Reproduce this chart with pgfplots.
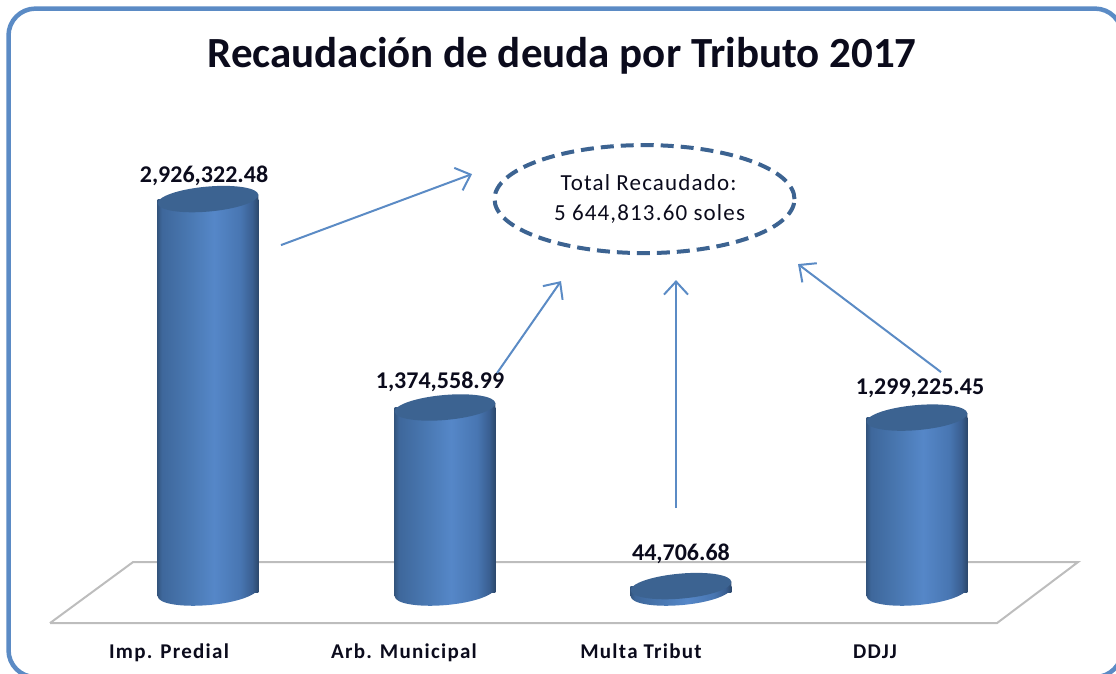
\documentclass[border=0pt]{standalone}
\usepackage{fontspec}
\setmainfont{Carlito}
\usepackage{pgfplots}
\usepackage{pgfplotstable}
\pgfplotsset{compat=1.18}
\usetikzlibrary{arrows.meta}
\definecolor{framecol}{HTML}{5B8BC5}
\definecolor{lidcol}{HTML}{3C6391}
\definecolor{inkcol}{HTML}{0B0B1C}
\definecolor{floorcol}{HTML}{BDBDBD}
\definecolor{cA}{RGB}{52,86,128}
\definecolor{cB}{RGB}{62,103,155}
\definecolor{cC}{RGB}{72,118,175}
\definecolor{cD}{RGB}{85,135,200}
\definecolor{cE}{RGB}{72,118,178}
\definecolor{cF}{RGB}{58,95,145}
\definecolor{cG}{RGB}{44,72,108}
\pgfdeclarehorizontalshading{cyl}{100bp}{%
 color(0bp)=(cA);
 color(25bp)=(cA);
 color(27bp)=(cB);
 color(39bp)=(cC);
 color(53bp)=(cD);
 color(66bp)=(cE);
 color(72bp)=(cF);
 color(75bp)=(cG);
 color(100bp)=(cG)}
\pgfdeclareplotmark{cyltop}{%
  \shade[shading=cyl,draw=none] (-50.31pt,-4.4pt) -- (50.31pt,-4.4pt) -- (50.31pt,4.4pt) -- cycle;
  \pgfpathellipse{\pgfpointorigin}{\pgfqpoint{50.31pt}{4.4pt}}{\pgfqpoint{-1.09pt}{12.45pt}}%
  \pgfsetfillcolor{lidcol}\pgfusepathqfill}
\pgfdeclareplotmark{cylbase}{%
  \shade[shading=cyl,draw=none] (-50.31pt,6pt) -- (-50.31pt,-4.4pt)
    .. controls (-49.69pt,-11.55pt) and (-26.66pt,-15.38pt) .. (1.13pt,-12.95pt)
    .. controls (28.92pt,-10.52pt) and (50.31pt,-2.75pt) .. (50.31pt,4.4pt)
    -- (50.31pt,6pt) -- cycle;}
\pgfplotstableread{
x   y            label         dx  dy
208 2926322.48   2,926,322.48  -4  23
445 1374558.99   1,374,558.99  -5  26
681 44706.68     44,706.68      0  32
917 1299225.45   1,299,225.45   3  29
}\tributos
\begin{document}
\begin{tikzpicture}
\begin{scope}[x=1pt,y=1pt,yshift=673pt]
\useasboundingbox (0,0) rectangle (1116,-673);
\draw[framecol,line width=4.5pt,rounded corners=27pt] (8.5,-8.5) rectangle (1122,-677);
\end{scope}
\begin{axis}[
  at={(0pt,0pt)},anchor=south west,
  scale only axis,width=1116pt,height=673pt,
  xmin=0,xmax=1116,ymin=-603126,ymax=4408032,
  clip=false,
  axis line style={draw=none},
  major tick length=0pt,
  ytick=\empty,
  xtick={169,404,641,875},
  xticklabels={Imp. Predial,Arb. Municipal,Multa Tribut,DDJJ},
  xticklabel style={anchor=center,yshift=20pt,text=inkcol,text height=14pt,text depth=4pt,
     font=\bfseries\fontsize{21}{24}\selectfont\addfontfeature{LetterSpace=6}},
  title={Recaudación de deuda por Tributo 2017},
  title style={at={(0.5036,0.908)},anchor=center,text=inkcol,font=\bfseries\fontsize{43}{50}\selectfont},
]
% floor
\addplot[floorcol,line width=2pt,line join=miter,no markers] coordinates
  {(50,-230826) (997,-230826) (1078,223380) (133,223380) (50,-230826)};
% bottom of each cylinder
\addplot[only marks,mark=cylbase,draw=none] table[x=x,y expr=0] {\tributos};
% body
\addplot[ybar,bar width=100.62pt,bar shift=0pt,draw=none,shading=cyl] coordinates {(208,2926322.48)};
\addplot[ybar,bar width=100.62pt,bar shift=0pt,draw=none,shading=cyl] coordinates {(445,1374558.99)};
\addplot[ybar,bar width=100.62pt,bar shift=0pt,draw=none,shading=cyl] coordinates {(681,44706.68)};
\addplot[ybar,bar width=100.62pt,bar shift=0pt,draw=none,shading=cyl] coordinates {(917,1299225.45)};
% lid and value
\addplot[only marks,mark=cyltop,
  visualization depends on={\thisrow{dx}\as\dxv},
  visualization depends on={\thisrow{dy}\as\dyv},
  point meta=explicit symbolic,
  nodes near coords,
  every node near coord/.style={anchor=center,xshift=\dxv pt,yshift=\dyv pt,text=inkcol,
     font=\bfseries\fontsize{24}{28}\selectfont},
] table[x=x,y=y,meta=label] {\tributos};
\end{axis}
\begin{scope}[x=1pt,y=1pt,yshift=673pt]
\draw[lidcol,line width=4pt,dash pattern=on 13pt off 7pt] (644.5,-199) ellipse (150pt and 54pt);
\node[text=inkcol,font=\fontsize{23}{26}\selectfont\addfontfeature{LetterSpace=5}] at (648.5,-183) {Total Recaudado:};
\node[text=inkcol,font=\fontsize{23}{26}\selectfont\addfontfeature{LetterSpace=5}] at (649.5,-214) {5 644,813.60 soles};
\begin{scope}[framecol,line width=2pt,-{Straight Barb[length=13pt,width=24pt,line width=2pt]}]
\draw (281,-245) -- (472,-174);
\draw (497,-373) -- (561,-281);
\draw (676,-508) -- (676,-280);
\draw (941,-372) -- (798,-264);
\end{scope}
\end{scope}
\end{tikzpicture}
\end{document}
